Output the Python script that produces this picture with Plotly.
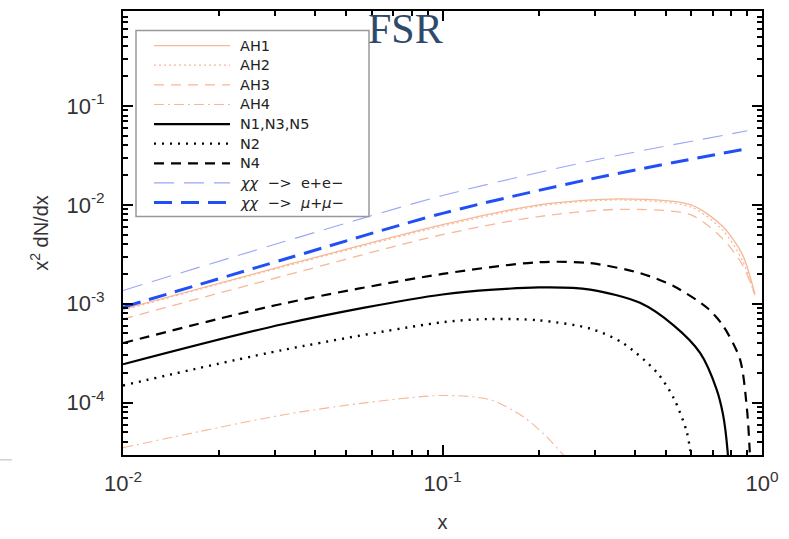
import plotly.graph_objects as go

# ---------------- data ----------------
x_ee = [0.01, 0.0316, 0.1, 0.29, 0.9]
y_ee = [1.36e-3, 4.2e-3, 1.24e-2, 2.77e-2, 5.6e-2]
y_mumu = [9.2e-4, 2.78e-3, 8.2e-3, 1.82e-2, 3.7e-2]

x_ah = [0.01, 0.0316, 0.1, 0.2, 0.36, 0.6, 0.755, 0.87, 0.95]
y_ah1 = [8.8e-4, 2.4e-3, 6.3e-3, 1.0e-2, 1.15e-2, 1.0e-2, 6.0e-3, 3.1e-3, 1.25e-3]
y_ah2 = [8.6e-4, 2.35e-3, 6.1e-3, 9.7e-3, 1.12e-2, 9.5e-3, 5.5e-3, 2.7e-3, 1.2e-3]
y_ah3 = [7.0e-4, 1.9e-3, 5.0e-3, 7.6e-3, 9.0e-3, 7.9e-3, 4.5e-3, 2.45e-3, 1.23e-3]

x_ah4 = [0.01, 0.0316, 0.058, 0.1, 0.141, 0.179, 0.212, 0.238, 0.25]
y_ah4 = [3.5e-5, 7.5e-5, 1.0e-4, 1.18e-4, 1.07e-4, 7.2e-5, 4.5e-5, 3.0e-5, 2.5e-5]

x_n1 = [0.01, 0.0316, 0.1, 0.2, 0.29, 0.415, 0.53, 0.64, 0.72, 0.755, 0.78, 0.79]
y_n1 = [2.44e-4, 6.2e-4, 1.24e-3, 1.46e-3, 1.39e-3, 1.02e-3, 6.0e-4, 3.18e-4, 1.38e-4, 7.6e-5, 3.3e-5, 1.5e-5]

x_n2 = [0.01, 0.0316, 0.1, 0.141, 0.2, 0.29, 0.367, 0.47, 0.53, 0.58, 0.596, 0.605]
y_n2 = [1.49e-4, 3.4e-4, 6.5e-4, 7.0e-4, 6.8e-4, 5.6e-4, 4.0e-4, 2.0e-4, 1.1e-4, 5.2e-5, 3.3e-5, 2.0e-5]

x_n4 = [0.01, 0.0316, 0.1, 0.2, 0.29, 0.415, 0.53, 0.673, 0.755, 0.853, 0.897, 0.915, 0.92]
y_n4 = [4.0e-4, 1.0e-3, 2.0e-3, 2.63e-3, 2.57e-3, 2.04e-3, 1.5e-3, 9.1e-4, 6.0e-4, 2.75e-4, 8.7e-5, 3.3e-5, 2.0e-5]

legend_labels = ["AH1", "AH2", "AH3", "AH4", "N1,N3,N5", "N2", "N4",
                 "<i>χχ</i>  −>  e+e−", "<i>χχ</i>  −>  <i>μ</i>+<i>μ</i>−"]

x_tickvals = [0.01, 0.1, 1]
x_ticktext = ["10<sup>-2</sup>", "10<sup>-1</sup>", "10<sup>0</sup>"]
y_tickvals = [1e-4, 1e-3, 1e-2, 1e-1]
y_ticktext = ["10<sup>-4</sup>", "10<sup>-3</sup>", "10<sup>-2</sup>", "10<sup>-1</sup>"]

# ---------------- styles ----------------
ORANGE = "#f6b897"
BLUE = "#1f4ff5"
LBLUE = "#9aa6f7"
styles = [
    dict(color=ORANGE, width=1.3, dash="solid"),
    dict(color=ORANGE, width=1.3, dash="2px,3px"),
    dict(color=ORANGE, width=1.3, dash="10px,7px"),
    dict(color=ORANGE, width=1.1, dash="10px,4px,2px,4px"),
    dict(color="black", width=2.2, dash="solid"),
    dict(color="black", width=2.4, dash="2px,6px"),
    dict(color="black", width=2.2, dash="10px,7px"),
    dict(color=LBLUE, width=1.1, dash="20px,10px"),
    dict(color=BLUE, width=3, dash="18px,9px"),
]

series = [
    (x_ah, y_ah1), (x_ah, y_ah2), (x_ah, y_ah3), (x_ah4, y_ah4),
    (x_n1, y_n1), (x_n2, y_n2), (x_n4, y_n4),
    (x_ee, y_ee), (x_ee, y_mumu),
]

fig = go.Figure()
for i, (xs, ys) in enumerate(series):
    fig.add_trace(go.Scatter(x=xs, y=ys, mode="lines", name=legend_labels[i],
                             line=dict(shape="spline", smoothing=0.8, **styles[i]),
                             showlegend=False, hoverinfo="skip"))

# ---------------- layout ----------------
W, H = 789, 539
L, R, T, B = 123, 762, 9, 465


def px(xp):
    return (xp - L) / (R - L)


def py(yp):
    return (B - yp) / (B - T)


minor_x = [k * 10 ** e for e in (-2, -1) for k in range(2, 10)]
minor_y = [k * 10 ** e for e in (-5, -4, -3, -2, -1) for k in range(2, 10)]

FONT = "Liberation Sans, Arial, sans-serif"
axis_common = dict(type="log", showline=True, linecolor="black", linewidth=2,
                   mirror="allticks", ticks="inside", ticklen=10, tickwidth=2,
                   tickcolor="black", showgrid=False, zeroline=False,
                   tickfont=dict(family=FONT, size=22, color="#333"))

fig.update_layout(
    width=W, height=H,
    margin=dict(l=L, r=W - R, t=T, b=H - B),
    paper_bgcolor="white", plot_bgcolor="white",
    showlegend=False,
    xaxis=dict(range=[-2, 0], tickmode="array", tickvals=x_tickvals, ticktext=x_ticktext,
               minor=dict(ticks="inside", ticklen=5, tickwidth=1.5, tickcolor="black",
                          tickmode="array", tickvals=minor_x, showgrid=False),
               ticklabelstandoff=8,
               title=dict(text="x", font=dict(family=FONT, size=20, color="#333"), standoff=20),
               **axis_common),
    yaxis=dict(range=[-4.53, -0.04], tickmode="array", tickvals=y_tickvals, ticktext=y_ticktext,
               minor=dict(ticks="inside", ticklen=5, tickwidth=1.5, tickcolor="black",
                          tickmode="array", tickvals=minor_y, showgrid=False),
               ticklabelstandoff=12,
               title=dict(text="x<sup>2</sup> dN/dx", font=dict(family=FONT, size=20, color="#333"),
                          standoff=12),
               **axis_common),
)

# ---------------- manual legend ----------------
shapes = []
annotations = []
shapes.append(dict(type="rect", xref="paper", yref="paper",
                   x0=px(136), x1=px(369), y0=py(220), y1=py(29),
                   line=dict(color="#999", width=1.5), fillcolor="white", layer="above"))
row0, dy = 44.5, 20.15
for i, lab in enumerate(legend_labels):
    yy = py(row0 + i * dy)
    st = styles[i]
    shapes.append(dict(type="line", xref="paper", yref="paper",
                       x0=px(154), x1=px(230), y0=yy, y1=yy,
                       line=dict(color=st["color"], width=st["width"], dash=st["dash"]),
                       layer="above"))
    annotations.append(dict(xref="paper", yref="paper", x=px(238), y=yy,
                            xanchor="left", yanchor="middle", showarrow=False,
                            text=lab, font=dict(family="DejaVu Sans, sans-serif", size=14.5, color="#222")))

annotations.append(dict(xref="paper", yref="paper", x=px(405), y=py(27),
                        xanchor="center", yanchor="middle", showarrow=False,
                        text="FSR", font=dict(family="Liberation Serif, Times New Roman, serif",
                                               size=42, color="#2e4a6b")))
shapes.append(dict(type="line", xref="paper", yref="paper", x0=px(0), x1=px(12),
                   y0=py(470), y1=py(470), line=dict(color="#bbb", width=1)))

fig.update_layout(shapes=shapes, annotations=annotations)

fig.write_html("out.html")
